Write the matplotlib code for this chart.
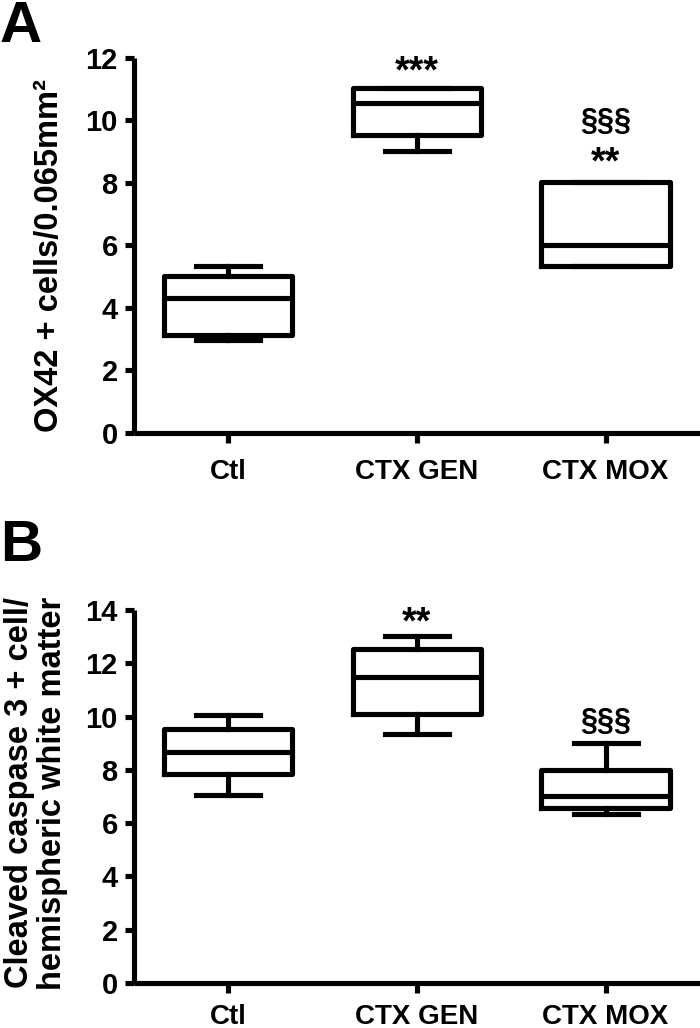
import matplotlib
matplotlib.use("Agg")
import matplotlib.pyplot as plt

plt.rcParams['font.family'] = ['Liberation Sans', 'DejaVu Sans']
plt.rcParams['font.weight'] = 'bold'

# === 資料 ===
groups = ["Ctl", "CTX GEN", "CTX MOX"]

# panel A: OX42
a_whislo = [2.97, 9.03, 5.35]
a_q1 = [3.15, 9.53, 5.35]
a_med = [4.33, 10.55, 6.03]
a_q3 = [5.02, 11.04, 8.04]
a_whishi = [5.33, 11.04, 8.04]
a_notes = [("***", 1, 11.55), ("§§§", 2, 9.95), ("**", 2, 8.62)]

# panel B: cleaved caspase 3
b_whislo = [7.04, 9.36, 6.33]
b_q1 = [7.85, 10.09, 6.56]
b_med = [8.67, 11.5, 7.0]
b_q3 = [9.52, 12.55, 8.01]
b_whishi = [10.07, 13.03, 9.02]
b_notes = [("**", 1, 13.5), ("§§§", 2, 9.8)]

LW = 3.7


def make_stats(lo, q1, med, q3, hi):
    return [dict(whislo=l, q1=a, med=m, q3=b, whishi=h, fliers=[], label=g)
            for l, a, m, b, h, g in zip(lo, q1, med, q3, hi, groups)]


def draw_panel(ax, stats, ymax, notes, xpad):
    line = dict(color="black", linewidth=LW)
    ax.bxp(stats, positions=range(len(stats)), widths=0.68, capwidths=0.34,
           showfliers=False, boxprops=line, medianprops=line,
           whiskerprops=line, capprops=line)
    ax.set_xlim(-0.5, 2.5)
    ax.set_ylim(0, ymax)
    ax.set_yticks(range(0, ymax + 1, 2))
    ax.set_xticks(range(len(groups)))
    ax.set_xticklabels(groups, fontsize=20, fontweight="bold")
    for lab in ax.get_yticklabels():
        lab.set_fontsize(21)
        lab.set_fontweight("bold")
    ax.spines["top"].set_visible(False)
    ax.spines["right"].set_visible(False)
    for s in ("left", "bottom"):
        ax.spines[s].set_linewidth(LW)
        ax.spines[s].set_capstyle("butt")
    ax.tick_params(axis="y", length=6.5, width=LW, pad=5)
    ax.tick_params(axis="x", length=7, width=LW, pad=xpad)
    for txt, xpos, ypos in notes:
        size = 27 if "*" in txt else 22
        ax.text(xpos, ypos, txt, ha="center", va="center",
                fontsize=size, fontweight="bold")


fig = plt.figure(figsize=(7, 10.28), dpi=100)
axA = fig.add_axes([0.191, 0.5788, 0.809, 0.3648])
axB = fig.add_axes([0.191, 0.0438, 0.809, 0.3628])

draw_panel(axA, make_stats(a_whislo, a_q1, a_med, a_q3, a_whishi), 12,
           a_notes, 12)
draw_panel(axB, make_stats(b_whislo, b_q1, b_med, b_q3, b_whishi), 14,
           b_notes, 8)

fig.text(50 / 700, 1 - 256 / 1028, "OX42 + cells/0.065mm²", rotation=90,
         ha="center", va="center", fontsize=23.5, fontweight="bold")
fig.text(36 / 700, 1 - 793 / 1028,
         "Cleaved caspase 3 + cell/\nhemispheric white matter", rotation=90,
         ha="center", va="center", multialignment="center", linespacing=1.12,
         fontsize=23.5, fontweight="bold")

fig.text(0.0, 1.0, "A", fontsize=42, fontweight="bold", ha="left", va="top")
fig.text(0.0, 0.495, "B", fontsize=42, fontweight="bold", ha="left", va="top")

fig.savefig("out.png", dpi=100)
